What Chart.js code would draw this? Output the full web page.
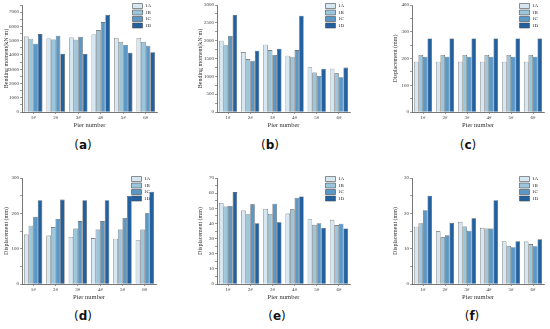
<!DOCTYPE html>
<html>
<head>
<meta charset="utf-8">
<script src="https://cdn.jsdelivr.net/npm/chart.js@4"></script>
<style>
  body { margin: 0; background: #fff; width: 550px; height: 329px; position: relative; overflow: hidden; }
  canvas { position: absolute; }
  .cap { position: absolute; font-family: "DejaVu Sans", sans-serif; font-size: 12px; color: #111; transform: translate(-50%, -50%); }
</style>
</head>
<body>
<canvas id="pa" width="165" height="130" style="left:0px;top:0px"></canvas>
<canvas id="pb" width="180" height="130" style="left:180px;top:0px"></canvas>
<canvas id="pc" width="185" height="130" style="left:365px;top:0px"></canvas>
<canvas id="pd" width="165" height="142" style="left:0px;top:160px"></canvas>
<canvas id="pe" width="180" height="142" style="left:180px;top:160px"></canvas>
<canvas id="pf" width="185" height="142" style="left:365px;top:160px"></canvas>
<div class="cap" style="left:83px;top:145px">(<b>a</b>)</div>
<div class="cap" style="left:270px;top:145px">(<b>b</b>)</div>
<div class="cap" style="left:468px;top:145px">(<b>c</b>)</div>
<div class="cap" style="left:83px;top:316px">(<b>d</b>)</div>
<div class="cap" style="left:277px;top:316px">(<b>e</b>)</div>
<div class="cap" style="left:472px;top:316px">(<b>f</b>)</div>
<script>
var piers = ['1#', '2#', '3#', '4#', '5#', '6#'];
var cases = ['1A', '1B', '1C', '1D'];

// (a) bending moment
var momentA_1A = [5300, 5160, 5230, 5440, 5190, 5190];
var momentA_1B = [5140, 5090, 5070, 5740, 4910, 4910];
var momentA_1C = [4790, 5350, 5280, 6300, 4700, 4650];
var momentA_1D = [5465, 4090, 4070, 6810, 4160, 4190];
// (b) bending moment
var momentB_1A = [2000, 1680, 1885, 1580, 1255, 1215];
var momentB_1B = [1875, 1485, 1735, 1550, 1105, 1085];
var momentB_1C = [2135, 1440, 1600, 1735, 1010, 975];
var momentB_1D = [2720, 1720, 1775, 2700, 1205, 1245];
// (c) displacement
var dispC_1A = [188, 188, 188, 188, 188, 188];
var dispC_1B = [213, 213, 213, 213, 213, 213];
var dispC_1C = [207, 207, 207, 207, 207, 207];
var dispC_1D = [275, 275, 275, 275, 275, 275];
// (d) displacement
var dispD_1A = [140, 137, 133, 130, 128, 124];
var dispD_1B = [165, 161, 157, 154, 154, 154];
var dispD_1C = [190, 184, 178, 178, 187, 200];
var dispD_1D = [237, 239, 237, 237, 249, 261];
// (e) displacement
var dispE_1A = [53.5, 48.5, 49.6, 46.5, 42.8, 42.4];
var dispE_1B = [51.1, 46.1, 46.3, 49.3, 39.1, 38.9];
var dispE_1C = [51.5, 52.6, 53.0, 57.0, 40.2, 39.8];
var dispE_1D = [60.7, 40.2, 40.7, 57.8, 37.0, 36.7];
// (f) displacement
var dispF_1A = [16.2, 14.9, 17.6, 15.9, 12.1, 12.0];
var dispF_1B = [17.2, 13.2, 16.3, 15.7, 10.8, 11.3];
var dispF_1C = [20.9, 13.8, 15.1, 15.7, 10.4, 10.7];
var dispF_1D = [25.0, 17.3, 18.6, 23.7, 12.1, 12.7];

var fills = ['#d6e7f2', '#9cc6dc', '#5b98c6', '#22609f'];
var axisColor = '#555';
var serif = 'Liberation Serif';

// put the legend in the top right corner of the plot area
var legendCorner = {
    id: 'legendCorner',
    afterLayout: function(chart){
        var lg = chart.legend, ca = chart.chartArea;
        lg.left = ca.right - 26;
        lg.right = lg.left + lg.width;
        lg.top = ca.top - 3;
        lg.bottom = lg.top + lg.height;
    }
};

function makePanel(id, series, yTitle, yMax, major, pad, yWidth){
    var sets = [];
    for (var i = 0; i < cases.length; i++) {
        sets.push({
            label: cases[i],
            data: series[i],
            backgroundColor: fills[i],
            borderColor: '#4a4a4a',
            borderWidth: 0.6,
            barPercentage: 1,
            categoryPercentage: 0.82
        });
    }
    new Chart(document.getElementById(id), {
        type: 'bar',
        data: { labels: piers, datasets: sets },
        plugins: [legendCorner],
        options: {
            responsive: false,
            animation: false,
            layout: { padding: pad },
            plugins: {
                tooltip: { enabled: false },
                legend: {
                    position: 'chartArea',
                    align: 'start',
                    labels: {
                        boxWidth: 10, boxHeight: 5, padding: 1.5,
                        color: '#222',
                        font: { family: serif, size: 5 }
                    }
                }
            },
            scales: {
                x: {
                    afterFit: function(s){ s.height = 17; },
                    grid: { display: true, drawOnChartArea: false, offset: false, tickLength: 2, color: axisColor, lineWidth: 0.6 },
                    border: { display: true, color: axisColor, width: 0.8 },
                    ticks: { padding: 1, color: '#333', font: { family: serif, size: 5 } },
                    title: { display: true, text: 'Pier number', color: '#333', padding: 0, font: { family: serif, size: 6.5 } }
                },
                y: {
                    min: 0,
                    max: yMax,
                    afterFit: function(s){ s.width = yWidth; },
                    grid: { display: true, drawOnChartArea: false, tickLength: 2, color: axisColor, lineWidth: 0.6 },
                    border: { display: true, color: axisColor, width: 0.8 },
                    ticks: {
                        stepSize: major / 2,
                        autoSkip: false,
                        padding: 1,
                        color: '#333',
                        font: { family: serif, size: 5 },
                        callback: function(v){ return (v % major === 0) ? String(v) : ''; }
                    },
                    title: { display: true, text: yTitle, color: '#333', padding: 0, font: { family: serif, size: 6 } }
                }
            }
        }
    });
}

var bm = 'Bending moment(kN·m)';
var dp = 'Displacement (mm)';
makePanel('pa', [momentA_1A, momentA_1B, momentA_1C, momentA_1D], bm, 7500, 1000, {left: 3, right: 8, top: 5, bottom: 1}, 19);
makePanel('pb', [momentB_1A, momentB_1B, momentB_1C, momentB_1D], bm, 3000, 500, {left: 17, right: 10, top: 5, bottom: 1}, 20);
makePanel('pc', [dispC_1A, dispC_1B, dispC_1C, dispC_1D], dp, 400, 100, {left: 27, right: 6, top: 5, bottom: 1}, 20);
makePanel('pd', [dispD_1A, dispD_1B, dispD_1C, dispD_1D], dp, 300, 100, {left: 3, right: 9, top: 18, bottom: 1}, 19);
makePanel('pe', [dispE_1A, dispE_1B, dispE_1C, dispE_1D], dp, 70, 10, {left: 17, right: 10, top: 18, bottom: 1}, 20);
makePanel('pf', [dispF_1A, dispF_1B, dispF_1C, dispF_1D], dp, 30, 10, {left: 27, right: 6, top: 18, bottom: 1}, 20);
</script>
</body>
</html>
